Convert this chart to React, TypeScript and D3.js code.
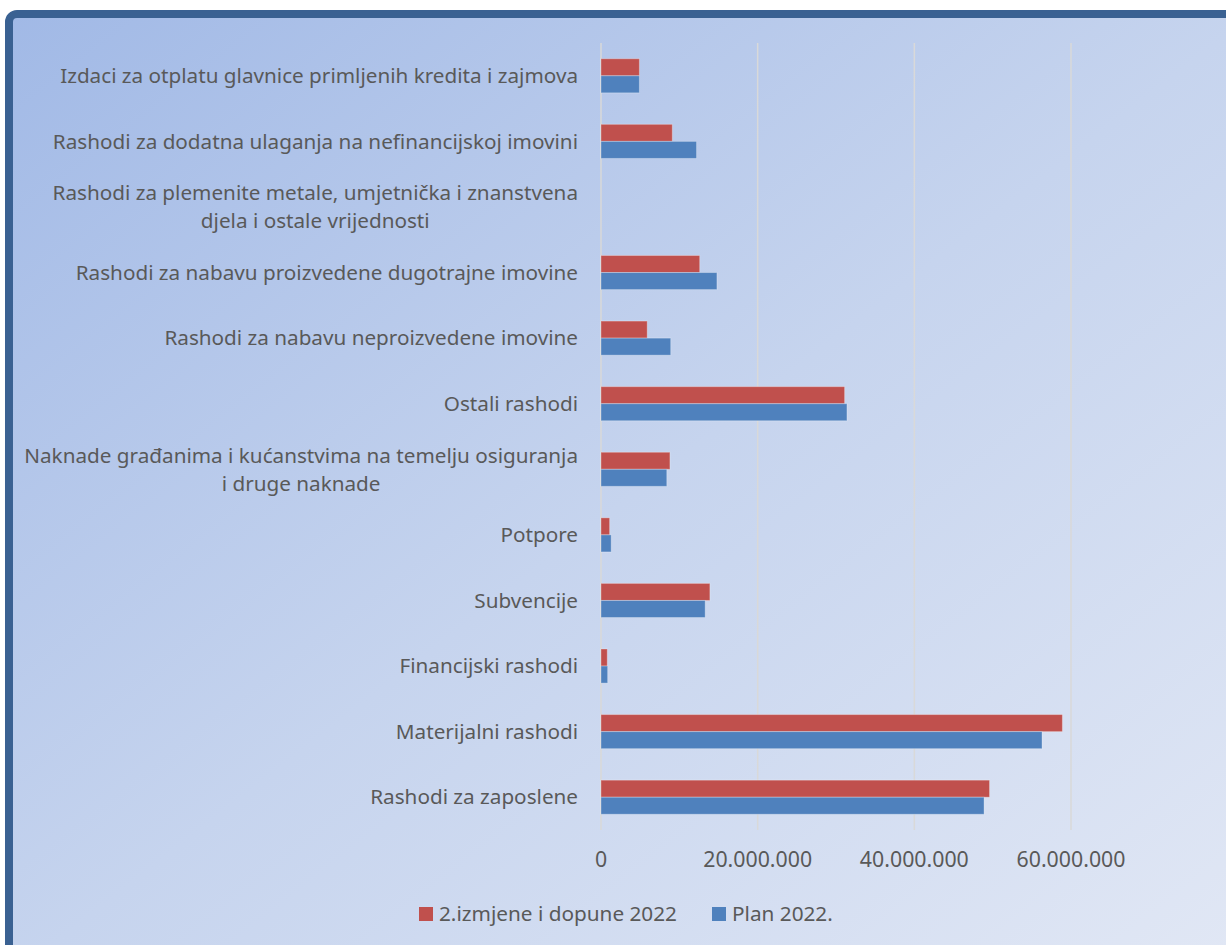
import React, { useEffect, useRef } from 'react';
import * as d3 from 'd3';

// categories top to bottom as shown in the chart
const categories = [
  ['Izdaci za otplatu glavnice primljenih kredita i zajmova'],
  ['Rashodi za dodatna ulaganja na nefinancijskoj imovini'],
  ['Rashodi za plemenite metale, umjetnička i znanstvena', 'djela i ostale vrijednosti'],
  ['Rashodi za nabavu proizvedene dugotrajne imovine'],
  ['Rashodi za nabavu neproizvedene imovine'],
  ['Ostali rashodi'],
  ['Naknade građanima i kućanstvima na temelju osiguranja', 'i druge naknade'],
  ['Potpore'],
  ['Subvencije'],
  ['Financijski rashodi'],
  ['Materijalni rashodi'],
  ['Rashodi za zaposlene'],
];

const seriesNames = ['2.izmjene i dopune 2022', 'Plan 2022.'];
const seriesColors = ['#C0504D', '#4F81BD'];

const izmjene = [4.9e6, 9.1e6, 0, 12.6e6, 5.9e6, 31.1e6, 8.8e6, 1.1e6, 13.9e6, 0.8e6, 58.9e6, 49.6e6];
const plan = [4.9e6, 12.2e6, 0, 14.8e6, 8.9e6, 31.4e6, 8.4e6, 1.3e6, 13.3e6, 0.85e6, 56.3e6, 48.9e6];

const xTicks = [0, 20e6, 40e6, 60e6];

const W = 1226;
const H = 945;
const FONT = '"Noto Sans", "Open Sans", sans-serif';
const TXT = '#595959';

// pick a font size so that a sample string has the wanted width
function fitSize(svg: any, sample: string, want: number) {
  const t = svg.append('text').attr('font-family', FONT).attr('font-size', 20).text(sample);
  const w = (t.node() as SVGTextElement).getComputedTextLength();
  t.remove();
  return w > 0 ? (20 * want) / w : 20;
}

export default function App() {
  const ref = useRef<SVGSVGElement>(null);

  useEffect(() => {
    const svg = d3.select(ref.current);
    svg.selectAll('*').remove();

    const defs = svg.append('defs');
    const grad = defs.append('linearGradient')
      .attr('id', 'bg').attr('x1', '0').attr('y1', '0').attr('x2', '1').attr('y2', '1');
    grad.append('stop').attr('offset', '0').attr('stop-color', '#A1B9E6');
    grad.append('stop').attr('offset', '0.5').attr('stop-color', '#C6D4EE');
    grad.append('stop').attr('offset', '1').attr('stop-color', '#E2E8F5');

    svg.append('rect').attr('width', W).attr('height', H).attr('fill', '#fff');
    svg.append('rect')
      .attr('x', 9).attr('y', 14).attr('width', W + 20).attr('height', H + 20)
      .attr('rx', 8)
      .attr('fill', 'url(#bg)')
      .attr('stroke', '#3A6192').attr('stroke-width', 8);

    const x = d3.scaleLinear().domain([0, 60e6]).range([601, 1071]);
    const y = d3.scaleBand<number>()
      .domain(d3.range(categories.length))
      .range([43, 830])
      .paddingInner(0.48)
      .paddingOuter(0.24);
    const sub = d3.scaleBand<number>().domain([0, 1]).range([0, y.bandwidth()]);

    // gridlines
    svg.append('g').selectAll('line').data(xTicks).join('line')
      .attr('x1', d => x(d)).attr('x2', d => x(d))
      .attr('y1', 43).attr('y2', 830)
      .attr('stroke', '#D9D9D9').attr('stroke-width', 1.5);

    // bars
    const values = [izmjene, plan];
    values.forEach((vals, s) => {
      svg.append('g').selectAll('rect').data(vals).join('rect')
        .attr('x', x(0))
        .attr('y', (_, i) => (y(i) as number) + (sub(s) as number))
        .attr('width', d => x(d) - x(0))
        .attr('height', sub.bandwidth())
        .attr('fill', seriesColors[s])
        .attr('stroke', 'rgba(255,255,255,0.3)').attr('stroke-width', 1)
        .attr('display', d => (d > 0 ? null : 'none'));
    });

    const labelSize = fitSize(svg, categories[0][0], 518);
    const tickSize = fitSize(svg, '20.000.000', 109);
    const legendSize = fitSize(svg, seriesNames[0], 238);

    // category labels
    const labels = svg.append('g')
      .attr('font-family', FONT).attr('font-size', labelSize).attr('fill', TXT);
    categories.forEach((lines, i) => {
      const cy = (y(i) as number) + y.bandwidth() / 2;
      const lh = 28;
      const g = labels.append('g');
      const texts = lines.map((ln, k) =>
        g.append('text')
          .attr('y', cy + (k - (lines.length - 1) / 2) * lh)
          .attr('dy', '0.35em')
          .text(ln)
      );
      const widths = texts.map(t => (t.node() as SVGTextElement).getComputedTextLength());
      const maxW = d3.max(widths) as number;
      const right = 578;
      texts.forEach(t => t.attr('text-anchor', 'middle').attr('x', right - maxW / 2));
    });

    // x axis labels
    const fmt = (v: number) => d3.format(',')(v).replace(/,/g, '.');
    svg.append('g').attr('font-family', FONT).attr('font-size', tickSize).attr('fill', TXT)
      .selectAll('text').data(xTicks).join('text')
      .attr('x', d => x(d)).attr('y', 860).attr('dy', '0.35em')
      .attr('text-anchor', 'middle')
      .text(d => fmt(d));

    // legend
    const legend = svg.append('g').attr('font-family', FONT).attr('font-size', legendSize).attr('fill', TXT);
    const legX = [419, 712];
    seriesNames.forEach((name, s) => {
      legend.append('rect')
        .attr('x', legX[s]).attr('y', 907).attr('width', 14).attr('height', 14)
        .attr('fill', seriesColors[s]);
      legend.append('text')
        .attr('x', legX[s] + 20).attr('y', 914).attr('dy', '0.35em')
        .text(name);
    });
  }, []);

  return (
    <svg ref={ref} width={W} height={H}
      style={{ position: 'absolute', left: 0, top: 0, display: 'block' }} />
  );
}
